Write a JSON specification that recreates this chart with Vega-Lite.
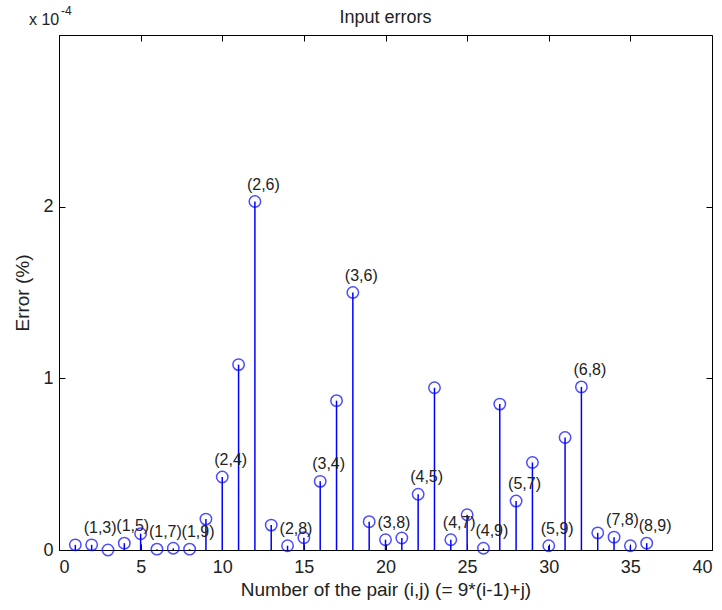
{
  "$schema": "https://vega.github.io/schema/vega-lite/v6.json",
  "width": 653,
  "height": 515,
  "autosize": "none",
  "padding": {"left": 59, "top": 35, "right": 10, "bottom": 60},
  "background": "white",
  "config": {
    "font": "Liberation Sans",
    "view": {"stroke": "black", "strokeWidth": 1},
    "axis": {"grid": false, "domainColor": "black", "tickColor": "black", "labelColor": "#222", "titleColor": "#222", "labelFont": "Liberation Sans", "titleFont": "Liberation Sans", "titleFontWeight": "normal", "labelFontSize": 18, "titleFontSize": 19, "tickSize": -6}
  },
  "title": {"text": "Input errors", "fontSize": 18, "fontWeight": "normal", "font": "Liberation Sans", "color": "#222", "offset": -22},
  "data": {"values": [
    {"n": 1, "err": 0.03, "label": ""},
    {"n": 2, "err": 0.03, "label": "(1,3)"},
    {"n": 3, "err": 0.0, "label": ""},
    {"n": 4, "err": 0.04, "label": "(1,5)"},
    {"n": 5, "err": 0.095, "label": ""},
    {"n": 6, "err": 0.005, "label": "(1,7)"},
    {"n": 7, "err": 0.01, "label": ""},
    {"n": 8, "err": 0.005, "label": "(1,9)"},
    {"n": 9, "err": 0.18, "label": ""},
    {"n": 10, "err": 0.425, "label": "(2,4)"},
    {"n": 11, "err": 1.08, "label": ""},
    {"n": 12, "err": 2.03, "label": "(2,6)"},
    {"n": 13, "err": 0.145, "label": ""},
    {"n": 14, "err": 0.025, "label": "(2,8)"},
    {"n": 15, "err": 0.072, "label": ""},
    {"n": 16, "err": 0.40, "label": "(3,4)"},
    {"n": 17, "err": 0.87, "label": ""},
    {"n": 18, "err": 1.50, "label": "(3,6)"},
    {"n": 19, "err": 0.165, "label": ""},
    {"n": 20, "err": 0.06, "label": "(3,8)"},
    {"n": 21, "err": 0.07, "label": ""},
    {"n": 22, "err": 0.325, "label": "(4,5)"},
    {"n": 23, "err": 0.945, "label": ""},
    {"n": 24, "err": 0.06, "label": "(4,7)"},
    {"n": 25, "err": 0.205, "label": ""},
    {"n": 26, "err": 0.01, "label": "(4,9)"},
    {"n": 27, "err": 0.85, "label": ""},
    {"n": 28, "err": 0.285, "label": "(5,7)"},
    {"n": 29, "err": 0.51, "label": ""},
    {"n": 30, "err": 0.025, "label": "(5,9)"},
    {"n": 31, "err": 0.655, "label": ""},
    {"n": 32, "err": 0.95, "label": "(6,8)"},
    {"n": 33, "err": 0.10, "label": ""},
    {"n": 34, "err": 0.075, "label": "(7,8)"},
    {"n": 35, "err": 0.025, "label": ""},
    {"n": 36, "err": 0.04, "label": "(8,9)"}
  ]},
  "layer": [
    {
      "mark": {"type": "rule", "color": "#0000FF", "strokeWidth": 1.5},
      "encoding": {
        "x": {"field": "n", "type": "quantitative", "scale": {"domain": [0, 40], "nice": false, "zero": false},
              "axis": {"orient": "bottom", "values": [0,5,10,15,20,25,30,35,40], "title": "Number of the pair (i,j) (= 9*(i-1)+j)", "titlePadding": 4, "labelPadding": 14}},
        "y": {"field": "err", "type": "quantitative", "scale": {"domain": [0, 3], "nice": false},
              "axis": {"orient": "left", "values": [0,1,2], "title": "Error (%)", "titlePadding": 10, "labelPadding": 12}},
        "y2": {"datum": 0}
      }
    },
    {
      "mark": {"type": "point", "shape": "circle", "filled": false, "color": "#0000FF", "size": 130, "strokeWidth": 1.5},
      "encoding": {
        "x": {"field": "n", "type": "quantitative", "axis": {"orient": "top", "values": [0,5,10,15,20,25,30,35,40], "labels": false, "title": null, "domain": false}},
        "y": {"field": "err", "type": "quantitative", "axis": {"orient": "right", "values": [0,1,2], "labels": false, "title": null, "domain": false}}
      }
    },
    {
      "mark": {"type": "text", "align": "left", "baseline": "middle", "dx": -8, "dy": -17, "fontSize": 16, "color": "#222", "font": "Liberation Sans"},
      "encoding": {
        "x": {"field": "n", "type": "quantitative", "axis": null},
        "y": {"field": "err", "type": "quantitative", "axis": null},
        "text": {"field": "label"}
      }
    },
    {
      "data": {"values": [{"t": "x 10"}]},
      "mark": {"type": "text", "align": "left", "baseline": "alphabetic", "dx": -30, "dy": -10, "fontSize": 16, "color": "#222", "font": "Liberation Sans"},
      "encoding": {
        "x": {"datum": 0, "type": "quantitative", "axis": null},
        "y": {"datum": 3, "type": "quantitative", "axis": null},
        "text": {"field": "t"}
      }
    },
    {
      "data": {"values": [{"t": "-4"}]},
      "mark": {"type": "text", "align": "left", "baseline": "alphabetic", "dx": 2, "dy": -20, "fontSize": 12, "color": "#222", "font": "Liberation Sans"},
      "encoding": {
        "x": {"datum": 0, "type": "quantitative", "axis": null},
        "y": {"datum": 3, "type": "quantitative", "axis": null},
        "text": {"field": "t"}
      }
    }
  ],
  "resolve": {"axis": {"x": "independent", "y": "independent"}}
}
